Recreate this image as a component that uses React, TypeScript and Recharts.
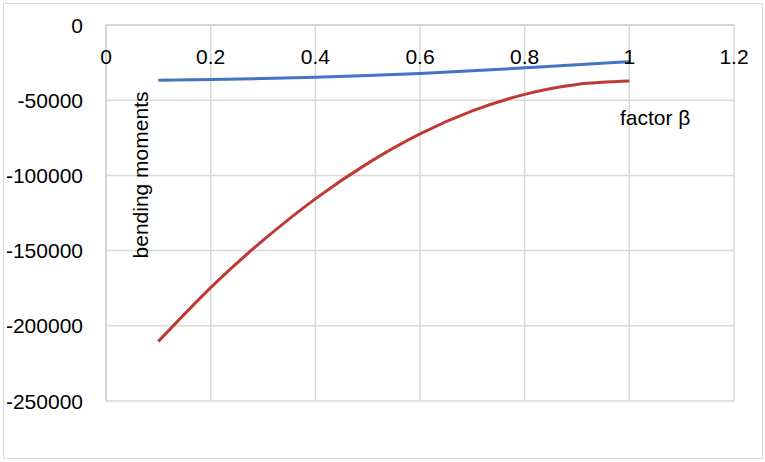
import React from 'react';
import { LineChart, Line, XAxis, YAxis, CartesianGrid, Customized } from 'recharts';

const betaValues = [0.1, 0.2, 0.3, 0.4, 0.5, 0.6, 0.7, 0.8, 0.9, 1.0];
const momentsBlue = [-36700, -36300, -35600, -34700, -33600, -32300, -30500, -28500, -26500, -24400];
const momentsRed = [-210400, -174600, -143200, -115600, -92000, -72400, -57100, -46100, -39500, -37300];
const xTicks = [0, 0.2, 0.4, 0.6, 0.8, 1, 1.2];
const yTicks = [0, -50000, -100000, -150000, -200000, -250000];
const xTitle = 'factor β';
const yTitle = 'bending moments';

const data = betaValues.map((b, i) => ({ beta: b, blue: momentsBlue[i], red: momentsRed[i] }));

const FONT = '"Liberation Sans", Arial, sans-serif';
const W = 765;
const H = 462;
const M = { top: 24, right: 31, bottom: 61, left: 0 };
const YW = 106;
const PLOT_TOP = 25;

const XTick = (props: any) => {
  const { x, payload } = props;
  return (
    <text x={x} y={PLOT_TOP + 38.5} textAnchor="middle" fontFamily={FONT} fontSize={21} fill="#000">
      {String(payload.value)}
    </text>
  );
};

const YTick = (props: any) => {
  const { y, payload } = props;
  return (
    <text x={83} y={y + 7.5} textAnchor="end" fontFamily={FONT} fontSize={21} fill="#000">
      {String(payload.value)}
    </text>
  );
};

const Titles = () => (
  <g>
    <text
      x={0}
      y={0}
      transform="translate(148,175) rotate(-90)"
      textAnchor="middle"
      fontFamily={FONT}
      fontSize={21}
      fill="#000"
    >
      {yTitle}
    </text>
    <text x={620} y={125} fontFamily={FONT} fontSize={21} fill="#000">
      {xTitle}
    </text>
  </g>
);

export default function App() {
  return (
    <div style={{ position: 'absolute', left: 0, top: 0, width: W, height: H, background: '#fff' }}>
      <div
        style={{
          position: 'absolute',
          left: 3,
          top: 3,
          width: 758,
          height: 454,
          border: '1px solid #d9d9d9',
        }}
      />
      <div style={{ position: 'absolute', left: 0, top: 0 }}>
        <LineChart width={W} height={H} data={data} margin={M}>
          <CartesianGrid stroke="#d9d9d9" strokeWidth={1.5} />
          <XAxis
            type="number"
            dataKey="beta"
            orientation="top"
            domain={[0, 1.2]}
            ticks={xTicks}
            height={1}
            tickLine={false}
            axisLine={{ stroke: '#d0d0d0', strokeWidth: 1.5 }}
            tick={XTick}
            interval={0}
          />
          <YAxis
            type="number"
            domain={[-250000, 0]}
            ticks={yTicks}
            width={YW}
            tickLine={false}
            axisLine={{ stroke: '#d0d0d0', strokeWidth: 1.5 }}
            tick={YTick}
            interval={0}
          />
          <Line
            type="natural"
            dataKey="blue"
            stroke="#4472C4"
            strokeWidth={3}
            dot={false}
            isAnimationActive={false}
          />
          <Line
            type="natural"
            dataKey="red"
            stroke="#BE3A34"
            strokeWidth={3}
            dot={false}
            isAnimationActive={false}
          />
          <Customized component={Titles} />
        </LineChart>
      </div>
    </div>
  );
}
